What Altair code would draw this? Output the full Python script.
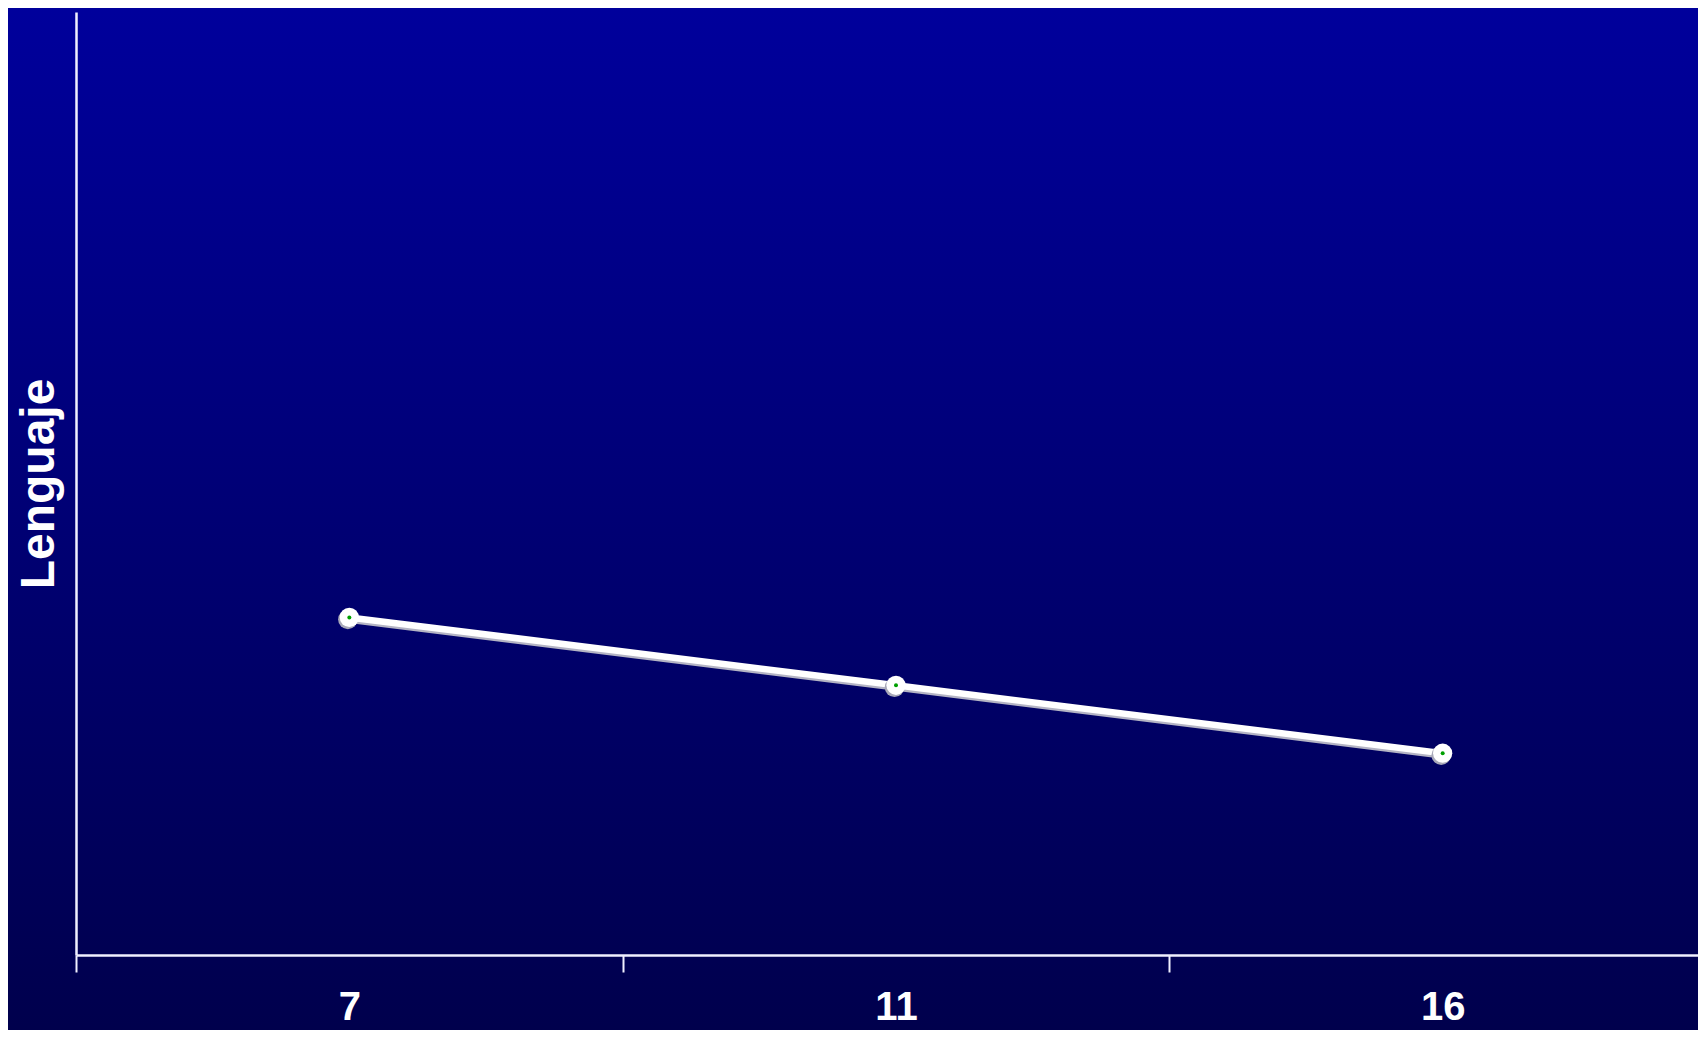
import altair as alt
import pandas as pd

# Data
edades = ["7", "11", "16"]
lenguaje = [35.8, 28.6, 21.4]

df = pd.DataFrame({"Edad": edades, "Lenguaje": lenguaje})

W, H = 1622, 943
TOP_COLOR = "#00009c"
BOTTOM_COLOR = "#00004c"
AXIS_COLOR = "#f0f0ff"

x_enc = alt.X(
    "Edad:O",
    sort=edades,
    scale=alt.Scale(type="band", paddingInner=0, paddingOuter=0, range=[0, 1640]),
    axis=alt.Axis(
        title=None,
        labelAngle=0,
        tickBand="extent",
        domainColor=AXIS_COLOR,
        domainWidth=2.5,
        tickColor=AXIS_COLOR,
        tickWidth=2,
        tickSize=17,
        labelColor="white",
        labelFont="Liberation Sans",
        labelFontWeight="bold",
        labelFontSize=40,
        labelPadding=15,
        grid=False,
        zindex=1,
    ),
)
y_enc = alt.Y(
    "Lenguaje:Q",
    scale=alt.Scale(domain=[0, 100], nice=False),
    axis=alt.Axis(
        title="Lenguaje",
        titleColor="white",
        titleFont="Liberation Sans",
        titleFontWeight="bold",
        titleFontSize=48,
        titlePadding=13,
        labels=False,
        ticks=False,
        grid=False,
        domainColor=AXIS_COLOR,
        domainWidth=2.5,
        zindex=1,
    ),
)

base = alt.Chart(df)

background = alt.Chart(alt.Data(values=[{}])).mark_rect(
    fill=alt.LinearGradient(
        gradient="linear",
        stops=[
            alt.GradientStop(color=TOP_COLOR, offset=0),
            alt.GradientStop(color=BOTTOM_COLOR, offset=1),
        ],
        x1=0, x2=0, y1=0, y2=1,
    )
).encode(
    x=alt.value(-68), x2=alt.value(W + 10), y=alt.value(-12), y2=alt.value(H + 83)
)

shadow_line = base.mark_line(color="#b4b4c4", strokeWidth=7, yOffset=2).encode(x=x_enc, y=y_enc)
main_line = base.mark_line(color="white", strokeWidth=6.5).encode(x=x_enc, y=y_enc)
shadow_pts = base.mark_circle(color="#a8a8b8", size=380, opacity=1, xOffset=-1.5, yOffset=2).encode(x=x_enc, y=y_enc)
white_pts = base.mark_circle(color="white", size=370, opacity=1).encode(x=x_enc, y=y_enc)
green_pts = base.mark_circle(color="#00a000", size=16, opacity=1).encode(x=x_enc, y=y_enc)

chart = alt.layer(
    background, shadow_line, main_line, shadow_pts, white_pts, green_pts
).properties(
    width=W,
    height=H,
    autosize=alt.AutoSizeParams(type="none"),
    padding={"left": 68, "top": 4, "right": 0, "bottom": 75},
    background=BOTTOM_COLOR,
).configure_view(stroke=None)

chart.save("out.html", embed_options={"renderer": "svg", "actions": False})
